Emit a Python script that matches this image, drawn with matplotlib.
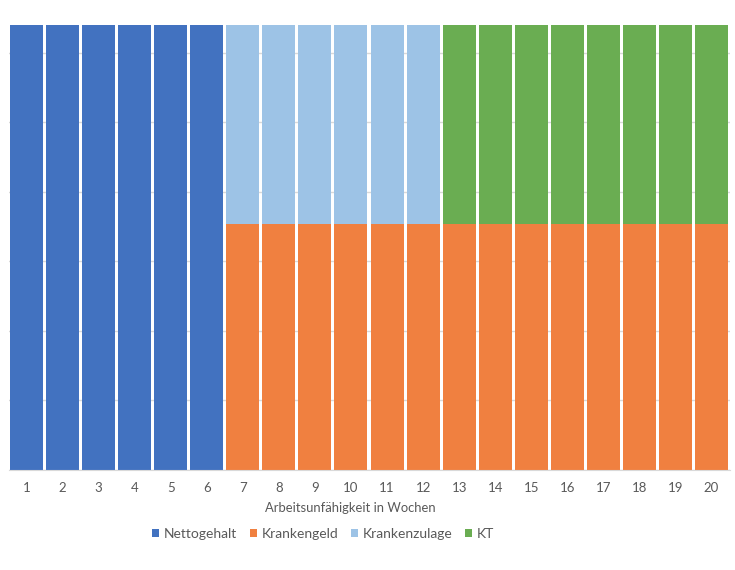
import matplotlib
matplotlib.use("Agg")
import matplotlib.pyplot as plt
import numpy as np

weeks = [str(i) for i in range(1, 21)]
nettogehalt   = [3200]*6 + [0]*14
krankengeld   = [0]*6 + [1770]*14
krankenzulage = [0]*6 + [1430]*6 + [0]*8
kt            = [0]*12 + [1430]*8

colors = {"Nettogehalt": "#4272C0", "Krankengeld": "#F08040",
          "Krankenzulage": "#9DC3E6", "KT": "#6AAD52"}

plt.rcParams['font.family'] = ['Lato', 'DejaVu Sans']
fig = plt.figure(figsize=(7.35, 5.70), dpi=100)
W, H = 735, 570
ax = fig.add_axes([8.5/W, (H-470)/H, (729.5-8.5)/W, (470-25)/H])

x = np.arange(len(weeks))
bw = 0.915
bottom = np.zeros(len(weeks))
series = [("Nettogehalt", nettogehalt), ("Krankengeld", krankengeld),
          ("Krankenzulage", krankenzulage), ("KT", kt)]
for name, vals in series:
    v = np.array(vals, dtype=float)
    ax.bar(x, v, bw, bottom=bottom, color=colors[name], label=name, zorder=2, linewidth=0)
    bottom += v

ax.set_xlim(-0.5, len(weeks)-0.5)
ax.set_ylim(0, 3200)
ax.set_yticks(np.arange(0, 3201, 500))
ax.yaxis.grid(True, color="#d9d9d9", linewidth=1, zorder=0)
ax.tick_params(axis='y', length=0, labelleft=False)
ax.set_xticks(x)
ax.set_xticklabels(weeks, color="#595959", fontsize=9.5)
ax.tick_params(axis='x', length=0, pad=9)
for s in ["top", "right", "left"]:
    ax.spines[s].set_visible(False)
ax.spines["bottom"].set_color("#d9d9d9")
ax.spines["bottom"].set_zorder(3)

fig.text(350/W, (H-508)/H, "Arbeitsunfähigkeit in Wochen", color="#595959",
         fontsize=9.4, ha="center", va="center")

handles, labels = ax.get_legend_handles_labels()
leg = fig.legend(handles, labels, loc="center", bbox_to_anchor=(323/W, (H-534)/H),
                 ncol=4, frameon=False, fontsize=10, handlelength=0.5, handleheight=0.5,
                 handletextpad=0.35, columnspacing=0.9, borderpad=0)
for t in leg.get_texts():
    t.set_color("#595959")

fig.savefig("out.png", dpi=100)
